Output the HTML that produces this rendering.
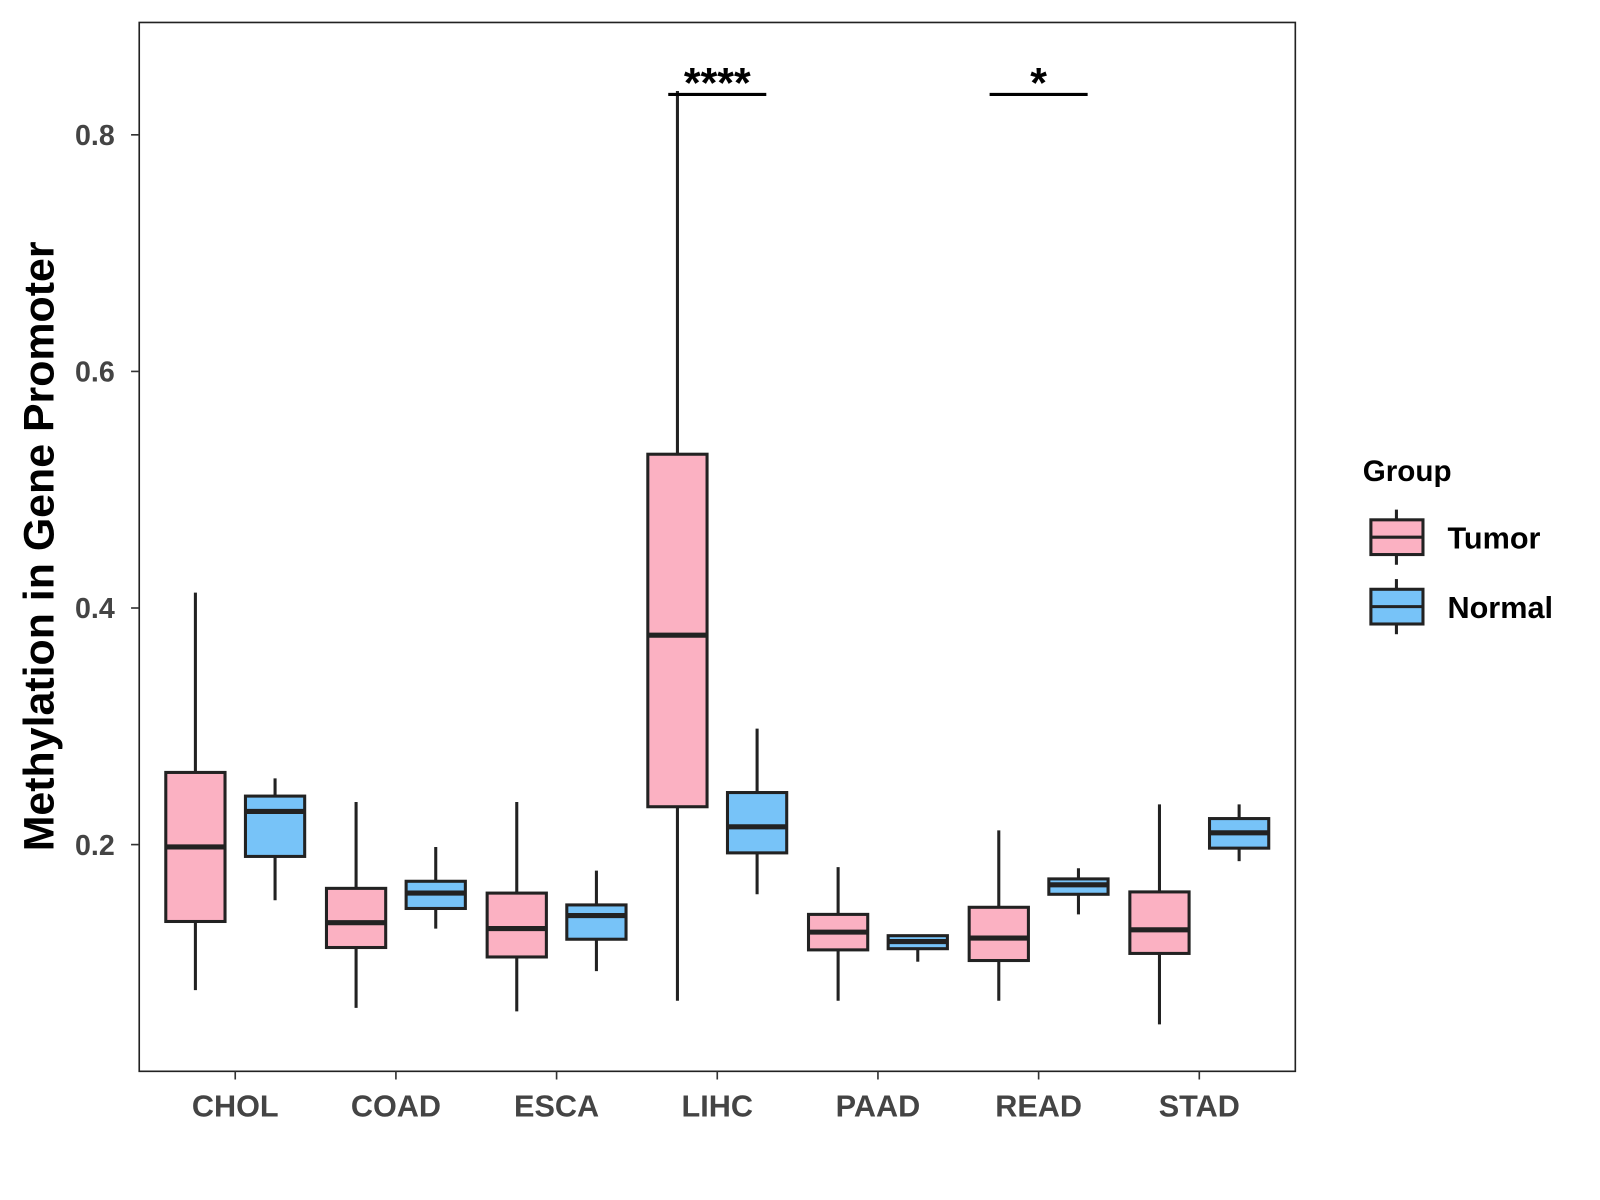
<!DOCTYPE html>
<html><head><meta charset="utf-8"><style>
html,body{margin:0;padding:0;background:#fff;}
svg{display:block;font-family:"Liberation Sans",Arial,sans-serif;}
</style></head><body>
<svg id="chart" width="1600" height="1200" viewBox="0 0 1566 1175">
<rect x="0" y="0" width="1566" height="1175" fill="#fff"/>
<g id="marks"></g>
<rect x="136" y="22" width="1132" height="1027" fill="none" stroke="#222" stroke-width="1.6"/>
<g id="axes"></g>
<text x="52" y="535" transform="rotate(-90 52 535)" text-anchor="middle" font-size="42" font-weight="bold" fill="#000">Methylation in Gene Promoter</text>
<g>
<text x="1334" y="471" font-size="29" font-weight="bold" fill="#000">Group</text>
<g>
<line x1="1367" y1="499" x2="1367" y2="553" stroke="#222" stroke-width="3"/>
<rect x="1342" y="509" width="51" height="34" fill="#fbb1c2" stroke="#222" stroke-width="3"/>
<line x1="1342" y1="526" x2="1393" y2="526" stroke="#222" stroke-width="3"/>
<text x="1417" y="537" font-size="30" font-weight="bold" fill="#000">Tumor</text>
</g>
<g>
<line x1="1367" y1="567" x2="1367" y2="621" stroke="#222" stroke-width="3"/>
<rect x="1342" y="577" width="51" height="34" fill="#77c3f8" stroke="#222" stroke-width="3"/>
<line x1="1342" y1="594" x2="1393" y2="594" stroke="#222" stroke-width="3"/>
<text x="1417" y="605" font-size="30" font-weight="bold" fill="#000">Normal</text>
</g>
</g>
</svg>
<script>
const categories = ["CHOL","COAD","ESCA","LIHC","PAAD","READ","STAD"];
const tumorLow  = [0.077,0.062,0.059,0.068,0.068,0.068,0.048];
const tumorQ1   = [0.135,0.113,0.105,0.232,0.111,0.102,0.108];
const tumorMed  = [0.198,0.134,0.129,0.377,0.126,0.121,0.128];
const tumorQ3   = [0.261,0.163,0.159,0.530,0.141,0.147,0.160];
const tumorHigh = [0.413,0.236,0.236,0.837,0.181,0.212,0.234];
const normalLow  = [0.153,0.129,0.093,0.158,0.101,0.141,0.186];
const normalQ1   = [0.190,0.146,0.120,0.193,0.112,0.158,0.197];
const normalMed  = [0.228,0.159,0.140,0.215,0.118,0.166,0.210];
const normalQ3   = [0.241,0.169,0.149,0.244,0.123,0.171,0.222];
const normalHigh = [0.256,0.198,0.178,0.298,0.124,0.180,0.234];
const yTicks = [0.2,0.4,0.6,0.8];
const sigCats = ["LIHC","READ"];
const sigLabels = ["****","*"];
const sigY = 0.835;

const NS="http://www.w3.org/2000/svg";
function y(v){return 827-(v-0.2)*1158.3;}
function x(i){return 230+i*157.33;}
function mk(tag,attrs,parent){const e=document.createElementNS(NS,tag);for(const k in attrs)e.setAttribute(k,attrs[k]);parent.appendChild(e);return e;}
const marks=document.getElementById('marks'), axes=document.getElementById('axes');
function box(cx,lo,q1,md,q3,hi,fill,name){
  const g=mk('g',{},marks);
  
  
  mk('line',{x1:cx,x2:cx,y1:y(hi),y2:y(lo),stroke:'#222','stroke-width':3},g);
  mk('rect',{x:cx-29,y:y(q3),width:58,height:y(q1)-y(q3),fill:fill,stroke:'#222','stroke-width':3},g);
  mk('line',{x1:cx-29,x2:cx+29,y1:y(md),y2:y(md),stroke:'#222','stroke-width':5},g);
}
categories.forEach((c,i)=>{
  box(x(i)-39,tumorLow[i],tumorQ1[i],tumorMed[i],tumorQ3[i],tumorHigh[i],'#fbb1c2','box-tumor-'+c.toLowerCase());
  box(x(i)+39,normalLow[i],normalQ1[i],normalMed[i],normalQ3[i],normalHigh[i],'#77c3f8','box-normal-'+c.toLowerCase());
  mk('line',{x1:x(i),x2:x(i),y1:1049,y2:1057,stroke:'#333','stroke-width':1.6},axes);
  const t=mk('text',{x:x(i),y:1093,'text-anchor':'middle','font-size':30,'font-weight':'bold',fill:'#444'},axes);
  
  
  t.textContent=c;
});
yTicks.forEach(v=>{
  mk('line',{x1:128,x2:136,y1:y(v),y2:y(v),stroke:'#333','stroke-width':1.6},axes);
  const t=mk('text',{x:112,y:y(v)+10,'text-anchor':'end','font-size':28,'font-weight':'bold',fill:'#444'},axes);
  
  
  t.textContent=v.toFixed(1);
});
sigCats.forEach((c,k)=>{
  const i=categories.indexOf(c);
  const g=mk('g',{},marks);
  
  
  mk('line',{x1:x(i)-48,x2:x(i)+48,y1:y(sigY)+1,y2:y(sigY)+1,stroke:'#000','stroke-width':3},g);
  const t=mk('text',{x:x(i),y:y(sigY)+4,'text-anchor':'middle','font-size':42,'font-weight':'bold',fill:'#000'},g);
  t.textContent=sigLabels[k];
});
</script>
</body></html>
